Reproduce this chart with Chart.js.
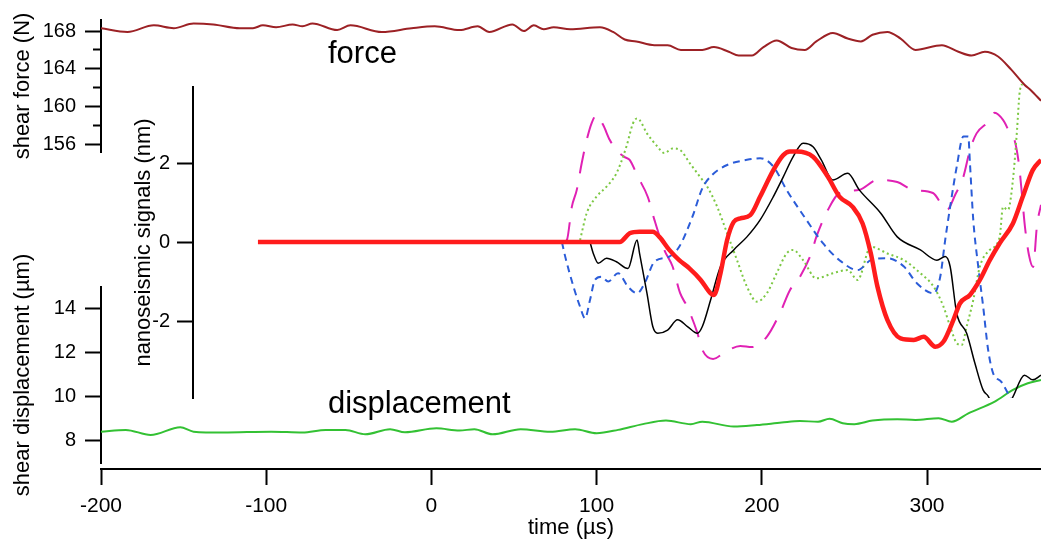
<!DOCTYPE html>
<html>
<head>
<meta charset="utf-8">
<title>shear force, nanoseismic signals and displacement</title>
<script src="https://cdn.jsdelivr.net/npm/chart.js@4.4.1/dist/chart.umd.min.js"></script>
<style>
body { margin: 0; background: #fff; }
#wrap { position: relative; width: 1041px; height: 539px; }
#wrap canvas { position: absolute; left: 0; top: 0; }
</style>
</head>
<body>
<div id="wrap">
<canvas id="mainChart" width="1041" height="539"></canvas>
<canvas id="nanoChart" width="1041" height="539"></canvas>
</div>
<script>
// tick labels
var xTicks = [-200, -100, 0, 100, 200, 300];
var forceTicks = [156, 160, 164, 168];
var forceMinorTicks = [158, 162, 166];
var dispTicks = [8, 10, 12, 14];
var nanoTicks = [-2, 0, 2];

// shear force (N)
var forceT = [-200,-184,-168,-156,-144,-132,-116,-108,-102,-94,-84,-78,-72,-57,-49,-30,-12,2,17,28,35,49,56,62,68,74,84,102,110,117,124,135,143,151,164,171,180,186,194,201,209,218,226,233,243,252,260,267,276,284,293,309,319,327,335,343,351,359,363,369];
var forceN = [168.3,167.9,168.6,168.3,168.8,168.7,168.3,168.3,168.6,168.4,168.7,168.5,168.8,168.1,168.6,167.9,168.3,168.5,168.1,168.5,167.9,168.7,168.0,168.6,168.2,168.4,168.2,168.4,167.9,167.1,166.9,166.5,166.5,166.0,166.0,166.3,165.8,165.4,165.4,166.3,167.0,166.2,166.0,166.9,167.8,167.2,166.9,167.6,167.9,167.2,166.0,166.5,165.8,165.4,165.8,165.3,163.9,162.3,161.7,160.6];

// shear displacement (um)
var dispT = [-200,-185,-170,-152,-144,-126,-97,-78,-64,-52,-40,-25,-16,3,17,26,37,54,72,87,100,113,128,142,157,164,183,197,212,223,234,241,249,256,267,282,293,307,315,325,341,352,361,369];
var dispV = [8.42,8.50,8.27,8.62,8.42,8.38,8.42,8.38,8.50,8.50,8.30,8.53,8.39,8.57,8.47,8.53,8.30,8.53,8.42,8.53,8.35,8.50,8.76,8.92,8.76,8.87,8.65,8.72,8.83,8.90,8.87,9.00,8.80,8.76,8.92,8.98,8.95,9.03,8.87,9.25,9.78,10.31,10.61,10.76];

// nanoseismic signals (nm)
var redT = [-105,96,114,120,126,134,138,144,150,156,163,169,171,175,179,183,187,193,199,207,213,217,221,231,240,247,255,261,266,270,276,284,292,298,305,310,316,320,326,332,338,344,352,358,364,369];
var redV = [0,0,0,0.22,0.26,0.26,0.13,-0.2,-0.46,-0.66,-0.96,-1.30,-1.34,-0.79,0.05,0.51,0.60,0.68,1.15,1.82,2.2,2.29,2.29,2.16,1.65,1.15,0.89,0.47,-0.29,-1.13,-1.97,-2.44,-2.48,-2.40,-2.65,-2.52,-1.97,-1.55,-1.34,-0.96,-0.46,-0.03,0.47,1.15,1.82,2.08];

var blackT = [96,98,101,106,112,119,124.5,126,130.5,134,137,143,149,155,161,164,169,175,183,191,199,207,213,219,225,231,236,243,252,259,272,282,296,306,311,314,318,324,329,334,337,344,352,359,364,369];
var blackV = [0,-0.29,-0.54,-0.41,-0.5,-0.67,0.05,-0.29,-1.3,-2.14,-2.31,-2.23,-1.97,-2.14,-2.31,-2.14,-1.47,-0.62,-0.2,0.13,0.56,1.15,1.65,2.16,2.50,2.41,2.08,1.57,1.74,1.32,0.73,0.13,-0.2,-0.46,-0.37,-0.62,-1.81,-2.31,-3.07,-3.75,-3.9,-4.5,-3.92,-3.37,-3.49,-3.37];

var blueT = [79,81,86,90,93,96,99,103,107,113,119,124.5,129,135,144,150,158,164,170,179,191,199,207,215,227,237,247,258,266,276,286,294,304,308,311,314,318,322,325,326,328,331,334,337,340,345,350,355];
var blueV = [0,-0.37,-1.13,-1.64,-1.93,-1.47,-0.96,-0.88,-1.0,-0.79,-1.13,-1.30,-1.05,-0.5,-0.37,-0.12,0.64,1.36,1.70,1.95,2.08,2.12,1.91,1.32,0.56,-0.03,-0.46,-0.71,-0.46,-0.41,-0.62,-1.05,-1.30,-0.88,0.05,0.89,1.91,2.67,2.67,1.99,0.56,-0.62,-1.64,-2.73,-3.32,-3.54,-3.92,-4.4];

var greenT = [90,94,100,106,112,118,122,124.5,126,130.5,137,141,146,150.5,156.5,162.6,167,173,179,185,191,197,203,209,215,219,225,233,243,252,258,266,276,286,296,304,310,314,318,321,324,328,332,338,344,346,349,352,354.5,356,357.5];
var greenV = [0.05,0.73,1.15,1.40,1.74,2.41,3.0,3.13,3.09,2.75,2.41,2.25,2.37,2.33,1.99,1.65,1.40,0.89,0.22,-0.46,-1.13,-1.51,-1.30,-0.79,-0.29,-0.20,-0.46,-0.92,-0.79,-0.71,-0.96,-0.12,-0.29,-0.46,-0.79,-1.13,-1.64,-2.14,-2.56,-2.61,-2.14,-1.47,-0.62,-0.20,0.13,0.89,0.81,1.57,2.84,3.76,4.0];

var magT = [80,82,85,88,91,94,97,100,104,108,112,117,120,125,131,135,141,146,150.5,155,161,164,170.5,178,187,194,203,211,217,223,230,233,240,247,259,270,282,291.5,303.6,312,317,322,326,330,337,341,346,350,353,355.7,357.5,359.3,361.7,364.2,366.6,369];
var magV = [0,0.05,0.89,1.32,2.0,2.58,3.01,3.22,2.96,2.58,2.33,2.15,2.08,1.65,1.14,0.56,-0.2,-0.62,-1.29,-1.65,-2.30,-2.73,-2.96,-2.78,-2.63,-2.66,-2.40,-1.80,-1.22,-0.89,-0.28,0.13,0.81,1.24,1.32,1.57,1.52,1.32,1.24,0.81,1.19,1.65,2.33,2.75,3.04,3.27,3.09,2.78,2.58,1.95,1.19,0.38,-0.33,-0.63,0.43,0.94];

// layout of the figure (pixels)
var X_MIN = -200, X_MAX = 369;
var PLOT_LEFT = 101, PLOT_RIGHT = 1041, NANO_LEFT = 193;
var NANO_X_MIN = X_MIN + (NANO_LEFT - PLOT_LEFT) * (X_MAX - X_MIN) / (PLOT_RIGHT - PLOT_LEFT);

Chart.defaults.font.family = "'Liberation Sans', Arial, Helvetica, sans-serif";
Chart.defaults.color = '#000';

function pts(t, v) {
  return t.map(function(x, i) { return {x: x, y: v[i]}; });
}
function setTicks(list) {
  return function(scale) { scale.ticks = list.map(function(v) { return {value: v}; }); };
}
function leftBox(w) {
  return function(scale) { scale.width = w; scale.paddingTop = 0; scale.paddingBottom = 0; };
}
function line(d, color, width, dash) {
  return {data: d, borderColor: color, borderWidth: width, borderDash: dash || [],
          pointRadius: 0, fill: false, cubicInterpolationMode: 'monotone'};
}

var tickGrid = {drawOnChartArea: false, tickLength: 16, tickWidth: 2, tickColor: '#000'};
var axisBorder = {color: '#000', width: 2};
var titleFont = {size: 22};
function tickOpts(size, pad) {
  return {padding: pad, autoSkip: false, maxRotation: 0, font: {size: size}};
}
var spacer = {axis: 'y', position: 'left', stack: 'left', min: 0, max: 1,
  border: {display: false}, grid: {display: false}, ticks: {display: false}};

var textLabels = {
  id: 'textLabels',
  afterDraw: function(chart) {
    var ctx = chart.ctx;
    var x = chart.scales.x.getPixelForValue(-62.6);
    ctx.save();
    ctx.font = "31px 'Liberation Sans', Arial, sans-serif";
    ctx.fillStyle = '#000';
    ctx.fillText('force', x, chart.scales.yForce.getPixelForValue(164.6));
    ctx.fillText('displacement', x, chart.scales.yDisp.getPixelForValue(9.27));
    ctx.restore();
  }
};

var forceLine = line(pts(forceT, forceN), '#9c2125', 2);
forceLine.yAxisID = 'yForce';
var dispLine = line(pts(dispT, dispV), '#33c133', 2);
dispLine.yAxisID = 'yDisp';

new Chart(document.getElementById('mainChart'), {
  type: 'line',
  data: {datasets: [forceLine, dispLine]},
  options: {
    responsive: false,
    animation: false,
    layout: {padding: {top: 20, right: 0, bottom: 0, left: 0}},
    plugins: {legend: {display: false}, tooltip: {enabled: false}},
    scales: {
      x: {
        type: 'linear', position: 'bottom', min: X_MIN, max: X_MAX,
        afterBuildTicks: setTicks(xTicks),
        afterFit: function(s) { s.height = 70; },
        border: axisBorder,
        grid: {drawOnChartArea: false, tickLength: 16, tickWidth: 2, tickColor: '#000'},
        ticks: tickOpts(21, 9),
        title: {display: true, text: 'time (µs)', font: {size: 22, lineHeight: 1}, padding: 0}
      },
      yForce: {
        axis: 'y', position: 'left', stack: 'left', stackWeight: 132, weight: 4,
        min: 155.17, max: 169.17,
        afterBuildTicks: setTicks(forceTicks),
        afterFit: leftBox(PLOT_LEFT),
        border: axisBorder, grid: tickGrid,
        ticks: tickOpts(20, 9),
        title: {display: true, text: 'shear force (N)', font: titleFont, padding: {top: 10, bottom: 0}}
      },
      yGap: Object.assign({}, spacer, {stackWeight: 135, weight: 3, afterFit: leftBox(PLOT_LEFT)}),
      yDisp: {
        axis: 'y', position: 'left', stack: 'left', stackWeight: 176, weight: 2,
        min: 7.0, max: 14.97,
        afterBuildTicks: setTicks(dispTicks),
        afterFit: leftBox(PLOT_LEFT),
        border: axisBorder, grid: tickGrid,
        ticks: tickOpts(20, 9),
        title: {display: true, text: 'shear displacement (µm)', font: titleFont, padding: {top: 10, bottom: 0}}
      },
      yGap2: Object.assign({}, spacer, {stackWeight: 6, weight: 1, afterFit: leftBox(PLOT_LEFT)}),
      yForceMinor: {
        axis: 'y', position: {x: X_MIN},
        min: 169.17 - 449 * 14 / 132, max: 169.17,
        afterBuildTicks: setTicks(forceMinorTicks),
        border: {display: false},
        grid: {drawOnChartArea: false, tickLength: 8, tickWidth: 2, tickColor: '#000'},
        ticks: {display: false, autoSkip: false}
      }
    }
  },
  plugins: [textLabels]
});

var greenLine = line(pts(greenT, greenV), '#7cc843', 2, [2, 3]);
greenLine.clip = false;

new Chart(document.getElementById('nanoChart'), {
  type: 'line',
  data: {datasets: [
    line(pts(redT, redV), '#ff1c1c', 4.5),
    line(pts(blackT, blackV), '#000000', 1.5),
    line(pts(blueT, blueV), '#2b5cd8', 2, [7, 5]),
    greenLine,
    line(pts(magT, magV), '#e021b4', 2, [22, 14])
  ]},
  options: {
    responsive: false,
    animation: false,
    layout: {padding: {top: 87, right: 0, bottom: 141, left: 0}},
    plugins: {legend: {display: false}, tooltip: {enabled: false}},
    scales: {
      x: {
        type: 'linear', display: false, min: NANO_X_MIN, max: X_MAX,
        afterFit: function(s) { s.height = 0; }
      },
      y: {
        position: 'left', min: -3.949, max: 3.924,
        afterBuildTicks: setTicks(nanoTicks),
        afterFit: leftBox(NANO_LEFT),
        border: axisBorder, grid: tickGrid,
        ticks: tickOpts(20, 7),
        title: {display: true, text: 'nanoseismic signals (nm)', font: titleFont, padding: {top: 131, bottom: 0}}
      }
    }
  }
});
</script>
</body>
</html>
